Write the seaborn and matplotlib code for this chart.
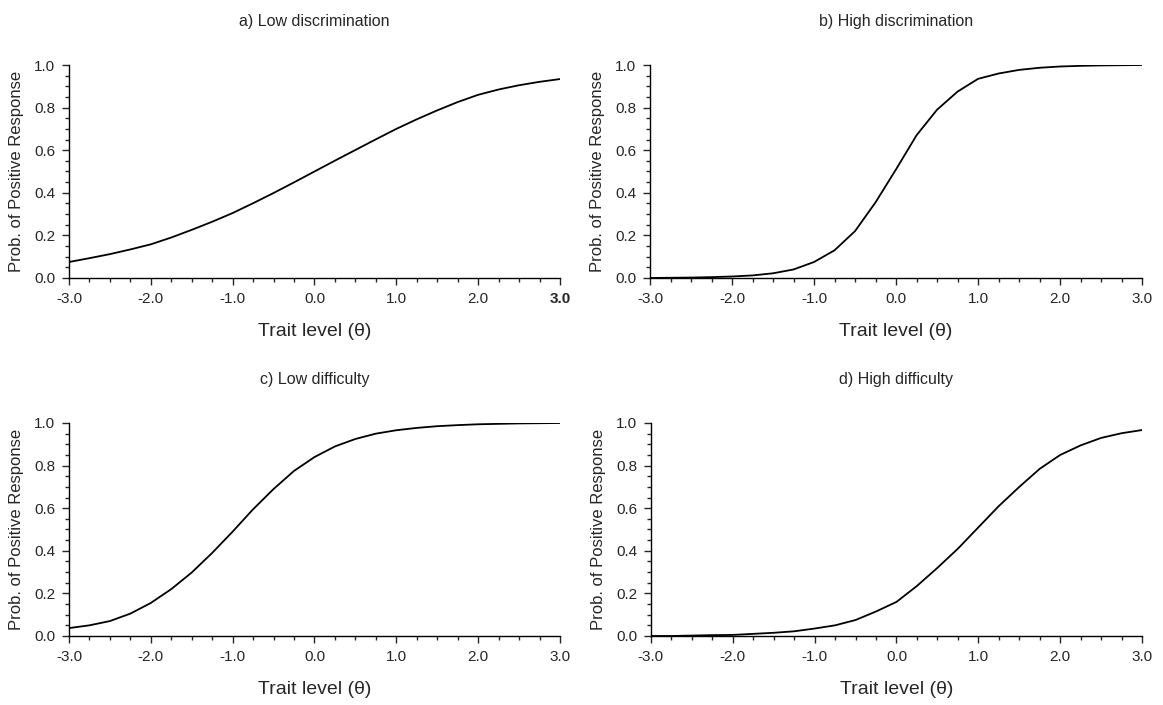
import matplotlib
matplotlib.use("Agg")
import matplotlib.pyplot as plt
from matplotlib.ticker import MultipleLocator, FormatStrFormatter
import seaborn as sns
import pandas as pd

# trait levels (theta) the curves were read at
theta = [-3.0, -2.75, -2.5, -2.25, -2.0, -1.75, -1.5, -1.25, -1.0, -0.75, -0.5, -0.25,
         0.0, 0.25, 0.5, 0.75, 1.0, 1.25, 1.5, 1.75, 2.0, 2.25, 2.5, 2.75, 3.0]

# probability of positive response
low_disc = [0.075, 0.093, 0.112, 0.134, 0.158, 0.19, 0.226, 0.264, 0.305, 0.351, 0.399, 0.449,
            0.50, 0.551, 0.601, 0.651, 0.70, 0.745, 0.787, 0.826, 0.86, 0.885, 0.905, 0.921, 0.934]
high_disc = [0.0, 0.001, 0.002, 0.004, 0.007, 0.012, 0.022, 0.04, 0.075, 0.13, 0.22, 0.355,
             0.51, 0.67, 0.79, 0.875, 0.935, 0.96, 0.977, 0.987, 0.993, 0.996, 0.998, 0.999, 1.0]
low_diff = [0.037, 0.05, 0.07, 0.105, 0.155, 0.22, 0.298, 0.39, 0.49, 0.595, 0.69, 0.775,
            0.84, 0.89, 0.925, 0.95, 0.966, 0.977, 0.985, 0.99, 0.994, 0.996, 0.998, 0.999, 1.0]
high_diff = [0.0, 0.0, 0.002, 0.004, 0.005, 0.01, 0.015, 0.022, 0.035, 0.05, 0.075, 0.115,
             0.16, 0.235, 0.32, 0.41, 0.51, 0.61, 0.70, 0.785, 0.85, 0.895, 0.93, 0.952, 0.967]

titles = ["a) Low discrimination", "b) High discrimination",
          "c) Low difficulty", "d) High difficulty"]
curves = [low_disc, high_disc, low_diff, high_diff]

sns.set_style("ticks")
plt.rcParams["font.family"] = ["Liberation Sans", "DejaVu Sans"]

fig = plt.figure(figsize=(11.63, 7.05), dpi=100)

boxes = [[0.0593, 0.6057, 0.4222, 0.3021],
         [0.5589, 0.6057, 0.4231, 0.3021],
         [0.0593, 0.0979, 0.4222, 0.3021],
         [0.5597, 0.0979, 0.4223, 0.3021]]

for i, (title, probs) in enumerate(zip(titles, curves)):
    ax = fig.add_axes(boxes[i])
    df = pd.DataFrame({"theta": theta, "p": probs})
    sns.lineplot(data=df, x="theta", y="p", ax=ax, color="black", linewidth=1.3)

    ax.set_xlim(-3, 3)
    ax.set_ylim(0, 1)
    ax.xaxis.set_major_locator(MultipleLocator(1.0))
    ax.xaxis.set_minor_locator(MultipleLocator(0.25))
    ax.yaxis.set_major_locator(MultipleLocator(0.2))
    ax.yaxis.set_minor_locator(MultipleLocator(0.05))
    ax.xaxis.set_major_formatter(FormatStrFormatter("%.1f"))
    ax.yaxis.set_major_formatter(FormatStrFormatter("%.1f"))
    ax.tick_params(which="major", length=5, width=1, labelsize=11, direction="out", pad=5)
    ax.tick_params(which="minor", length=3, width=1, direction="out")

    sns.despine(ax=ax)
    for s in ["left", "bottom"]:
        ax.spines[s].set_linewidth(1.0)
        ax.spines[s].set_color("black")

    ax.set_title(title, fontsize=11.5, pad=28)
    ax.set_xlabel("Trait level (\u03b8)", fontsize=14, labelpad=12)
    ax.set_ylabel("Prob. of Positive Response", fontsize=12, labelpad=7)

    # the first panel has its last x tick label in bold
    if i == 0:
        fig.canvas.draw()
        for lab in ax.get_xticklabels():
            if lab.get_text() == "3.0":
                lab.set_fontweight("bold")

fig.savefig("out.png", dpi=100, facecolor="white")
